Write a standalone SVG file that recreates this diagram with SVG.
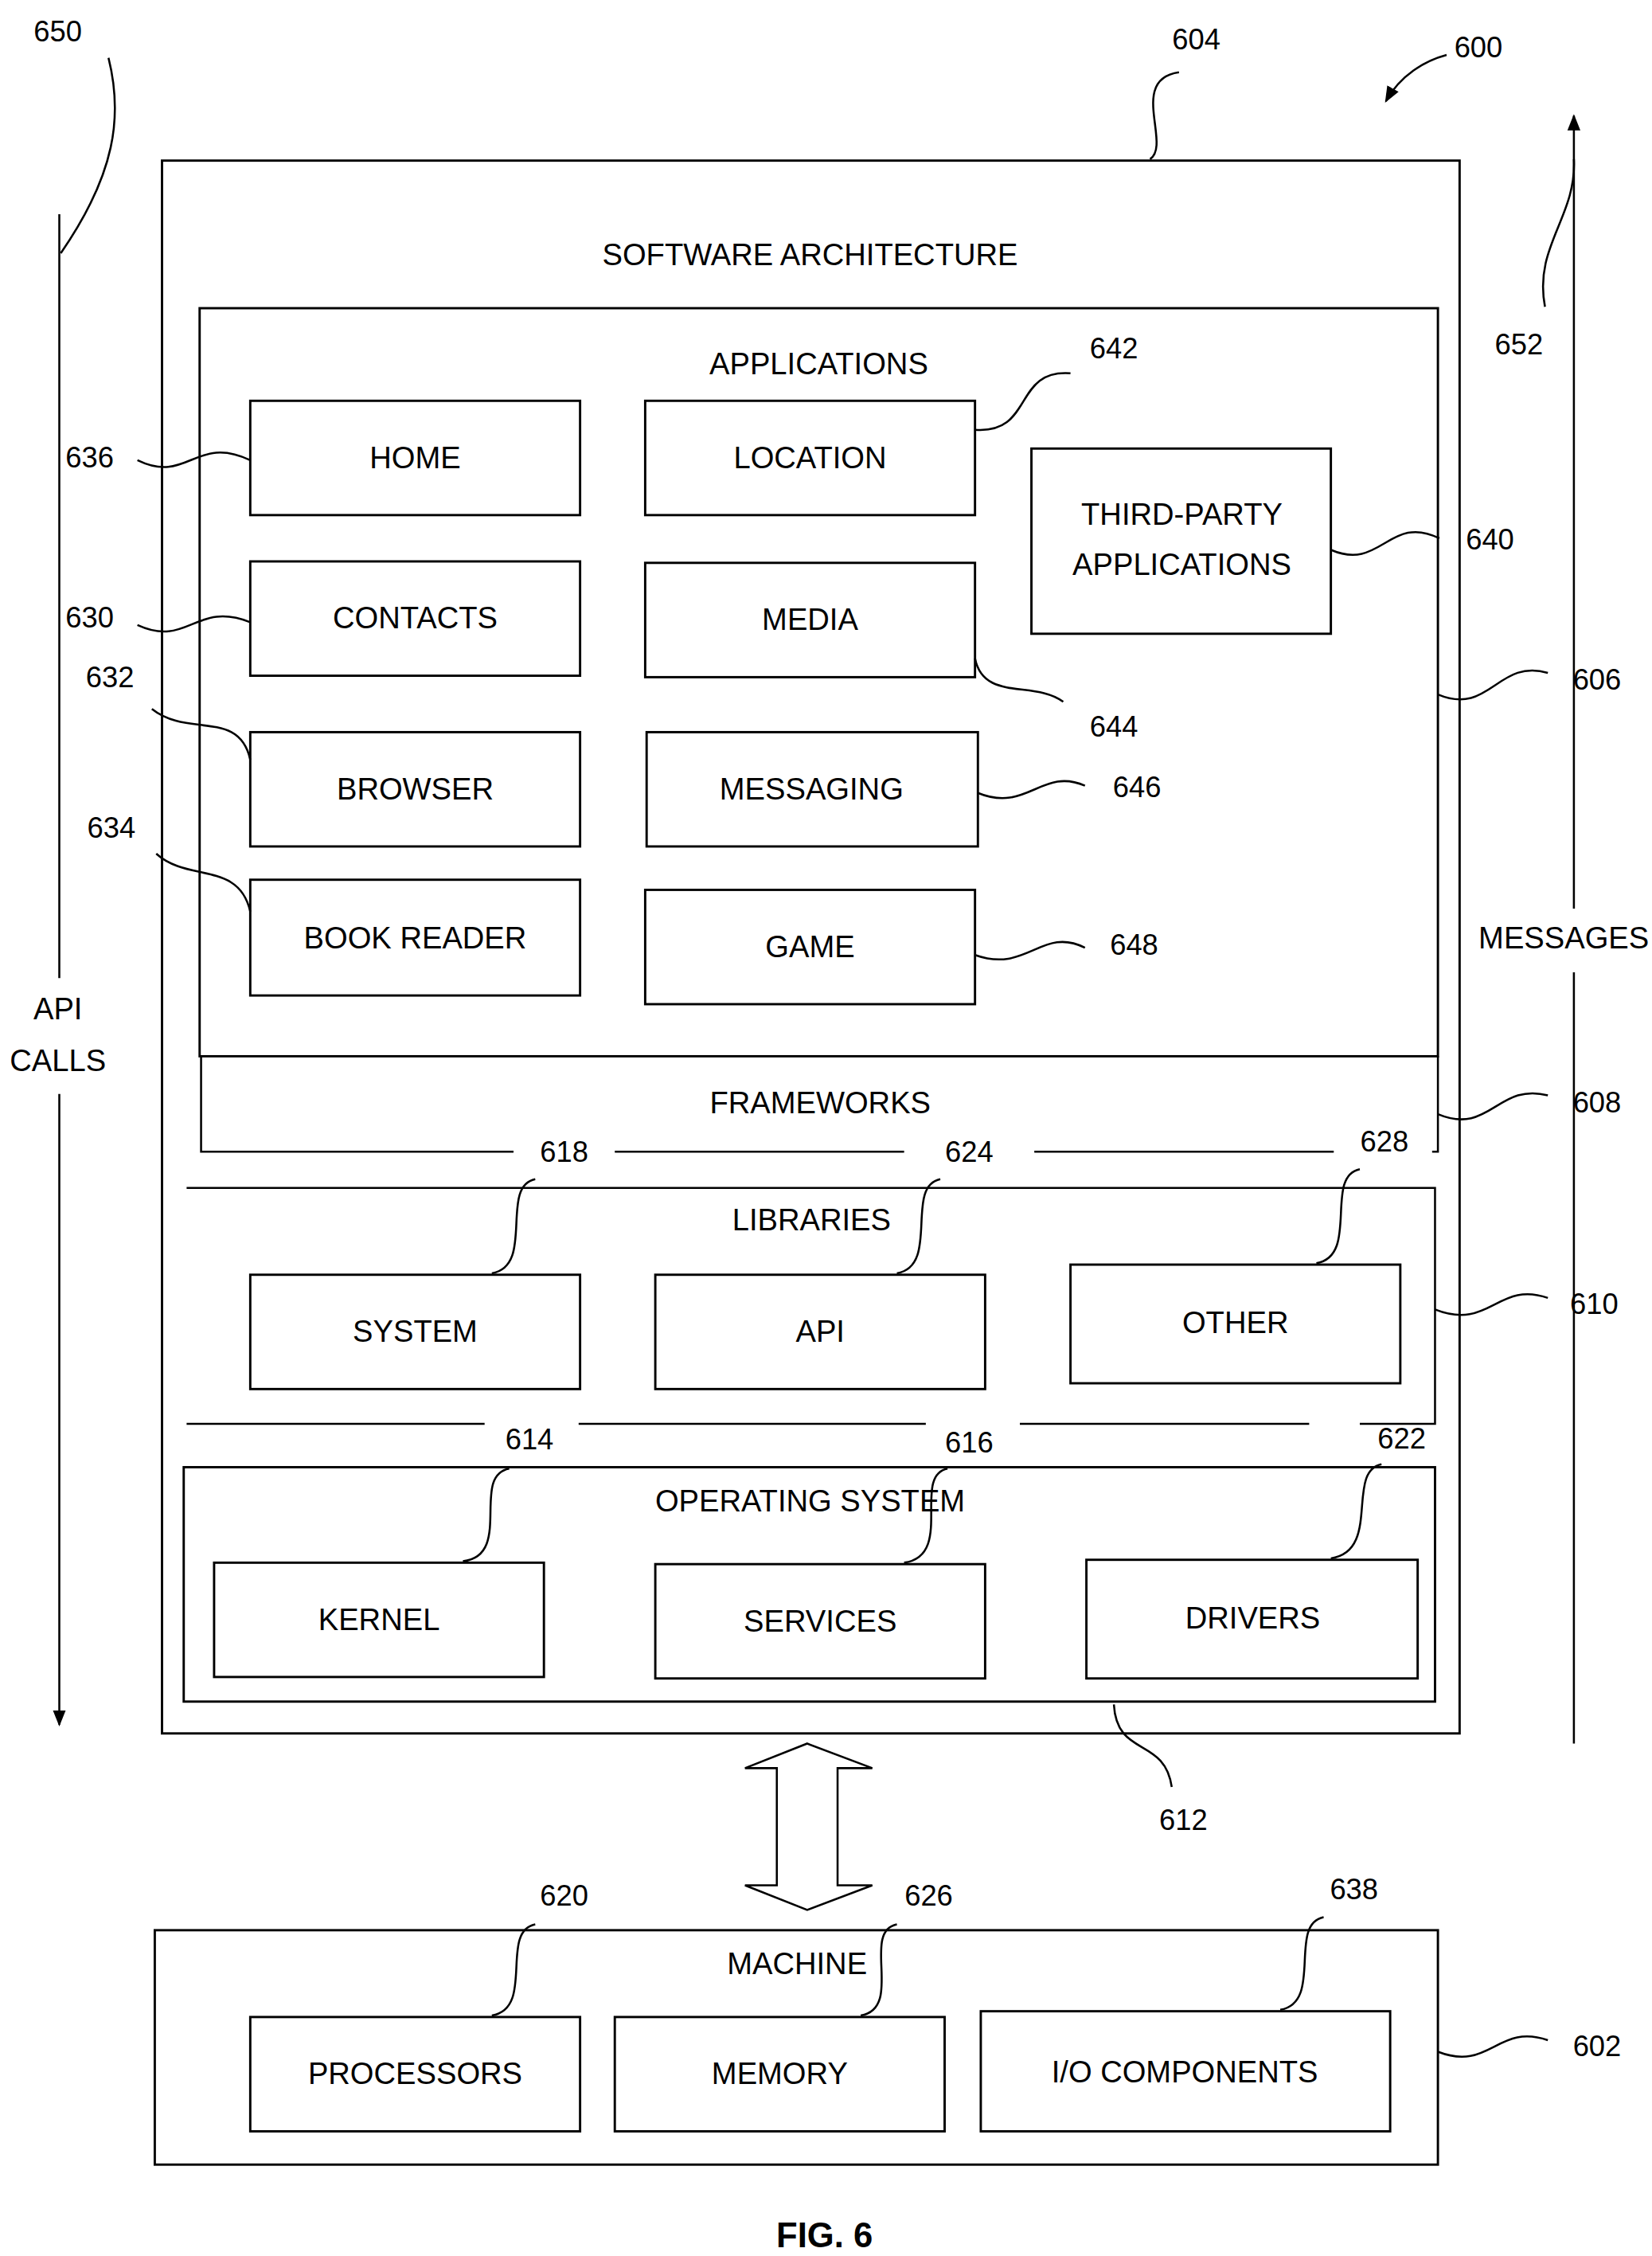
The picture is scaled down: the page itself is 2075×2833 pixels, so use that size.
<svg xmlns="http://www.w3.org/2000/svg" width="2075" height="2833" viewBox="0 0 2075 2833">
<style>
rect{fill:none;stroke:#000;stroke-width:1.6}
.l{fill:none;stroke:#000;stroke-width:1.4}
text{font-family:"Liberation Sans",Arial,sans-serif;font-size:21px;text-anchor:middle;dominant-baseline:central;fill:#000}
.n{font-size:20px}
</style>
<defs>
<marker id="ah" viewBox="0 0 10 10" refX="9" refY="5" markerWidth="8" markerHeight="8" orient="auto"><path d="M0,1 L10,5 L0,9 z" fill="#000"/></marker>
</defs>
<rect x="0" y="0" width="2075" height="2833" fill="#fff" style="fill:#fff;stroke:none"/>
<g transform="scale(1.817)">
<g id="sw"><rect x="112" y="111" width="897" height="1087"/><text x="560" y="176">SOFTWARE ARCHITECTURE</text></g>
<g id="apps"><rect x="138" y="213" width="856" height="517"/><text x="566" y="251">APPLICATIONS</text></g>
<g id="fw"><path class="l" d="M139 730 V796 H355 M425 796 H625 M715 796 H922 M990 796 H994 V730"/><text x="567" y="762">FRAMEWORKS</text></g>
<g id="libs"><path class="l" d="M129 821 H992 V984 H940 M905 984 H705 M640 984 H400 M335 984 H129 Z"/><text x="561" y="843">LIBRARIES</text></g>
<g id="os"><rect x="127" y="1014" width="865" height="162"/><text x="560" y="1037">OPERATING SYSTEM</text></g>
<g id="machine"><rect x="107" y="1334" width="887" height="162"/><text x="551" y="1357">MACHINE</text></g>
<g id="home"><rect x="173" y="277" width="228" height="79"/><text x="287" y="316">HOME</text></g>
<g id="location"><rect x="446" y="277" width="228" height="79"/><text x="560" y="316">LOCATION</text></g>
<g id="contacts"><rect x="173" y="388" width="228" height="79"/><text x="287" y="427">CONTACTS</text></g>
<g id="media"><rect x="446" y="389" width="228" height="79"/><text x="560" y="428">MEDIA</text></g>
<g id="browser"><rect x="173" y="506" width="228" height="79"/><text x="287" y="545">BROWSER</text></g>
<g id="messaging"><rect x="447" y="506" width="229" height="79"/><text x="561" y="545">MESSAGING</text></g>
<g id="bookreader"><rect x="173" y="608" width="228" height="80"/><text x="287" y="648">BOOK READER</text></g>
<g id="game"><rect x="446" y="615" width="228" height="79"/><text x="560" y="654">GAME</text></g>
<g id="thirdparty"><rect x="713" y="310" width="207" height="128"/><text x="817" y="355">THIRD-PARTY</text><text x="817" y="390">APPLICATIONS</text></g>
<g id="system"><rect x="173" y="881" width="228" height="79"/><text x="287" y="920">SYSTEM</text></g>
<g id="api"><rect x="453" y="881" width="228" height="79"/><text x="567" y="920">API</text></g>
<g id="other"><rect x="740" y="874" width="228" height="82"/><text x="854" y="914">OTHER</text></g>
<g id="kernel"><rect x="148" y="1080" width="228" height="79"/><text x="262" y="1119">KERNEL</text></g>
<g id="services"><rect x="453" y="1081" width="228" height="79"/><text x="567" y="1120">SERVICES</text></g>
<g id="drivers"><rect x="751" y="1078" width="229" height="82"/><text x="866" y="1118">DRIVERS</text></g>
<g id="processors"><rect x="173" y="1394" width="228" height="79"/><text x="287" y="1433">PROCESSORS</text></g>
<g id="memory"><rect x="425" y="1394" width="228" height="79"/><text x="539" y="1433">MEMORY</text></g>
<g id="io"><rect x="678" y="1390" width="283" height="83"/><text x="819" y="1432">I/O COMPONENTS</text></g>
<g id="connectors">
<path class="l" d="M41 148 V676"/>
<path class="l" d="M41 756 V1192" marker-end="url(#ah)"/>
<path class="l" d="M1088 1205 V672"/>
<path class="l" d="M1088 628 V80" marker-end="url(#ah)"/>
<path class="l" d="M558 1205 L603 1222 H579 V1303 H603 L558 1320 L515 1303 H537 V1222 H515 Z"/>
<path class="l" d="M75 40 C85 80 80 120 42 175"/>
<path class="l" d="M815 50 C780 55 810 100 795 110"/>
<path class="l" d="M1000 38 C985 42 968 52 958 70" marker-end="url(#ah)"/>
<path class="l" d="M1068 212 C1060 170 1090 150 1088 110"/>
<path class="l" d="M95 318 C130 335 135 300 173 318"/>
<path class="l" d="M740 258 C700 255 715 300 674 297"/>
<path class="l" d="M920 380 C955 395 960 355 995 372"/>
<path class="l" d="M95 432 C130 448 135 415 173 430"/>
<path class="l" d="M105 490 C130 510 165 490 173 525"/>
<path class="l" d="M674 455 C680 485 715 470 735 485"/>
<path class="l" d="M994 480 C1030 495 1035 455 1070 465"/>
<path class="l" d="M676 548 C710 562 720 530 750 543"/>
<path class="l" d="M108 590 C130 610 165 595 173 630"/>
<path class="l" d="M674 660 C710 673 720 640 750 655"/>
<path class="l" d="M994 770 C1030 785 1035 748 1070 757"/>
<path class="l" d="M370 815 C345 820 370 875 340 880"/>
<path class="l" d="M650 815 C625 820 650 875 620 880"/>
<path class="l" d="M940 808 C915 813 940 868 910 873"/>
<path class="l" d="M992 905 C1030 920 1035 885 1070 897"/>
<path class="l" d="M352 1015 C325 1020 355 1075 320 1079"/>
<path class="l" d="M655 1015 C630 1020 660 1075 625 1080"/>
<path class="l" d="M955 1012 C930 1017 955 1072 920 1077"/>
<path class="l" d="M770 1178 C772 1215 805 1200 810 1235"/>
<path class="l" d="M370 1330 C345 1335 370 1388 340 1393"/>
<path class="l" d="M620 1330 C595 1335 625 1388 595 1393"/>
<path class="l" d="M915 1325 C890 1330 915 1384 885 1389"/>
<path class="l" d="M994 1418 C1030 1432 1035 1398 1070 1410"/>
</g>
<g id="labels">
<text class="n" x="40" y="22">650</text><text class="n" x="827" y="27">604</text><text class="n" x="1022" y="33">600</text>
<text class="n" x="1050" y="238">652</text><text class="n" x="62" y="316">636</text><text class="n" x="770" y="241">642</text>
<text class="n" x="1030" y="373">640</text><text class="n" x="62" y="427">630</text><text class="n" x="76" y="468">632</text>
<text class="n" x="770" y="502">644</text><text class="n" x="1104" y="470">606</text><text class="n" x="786" y="544">646</text>
<text class="n" x="77" y="572">634</text><text class="n" x="784" y="653">648</text><text class="n" x="1104" y="762">608</text>
<text class="n" x="390" y="796">618</text><text class="n" x="670" y="796">624</text><text class="n" x="957" y="789">628</text>
<text class="n" x="1102" y="901">610</text><text class="n" x="366" y="995">614</text><text class="n" x="670" y="997">616</text>
<text class="n" x="969" y="994">622</text><text class="n" x="818" y="1258">612</text><text class="n" x="390" y="1310">620</text>
<text class="n" x="642" y="1310">626</text><text class="n" x="936" y="1306">638</text><text class="n" x="1104" y="1414">602</text>
<text x="40" y="697">API</text><text x="40" y="733">CALLS</text><text x="1081" y="648">MESSAGES</text>
<text x="570" y="1545" style="font-weight:bold;font-size:24px">FIG. 6</text>
</g>
</g>
</svg>
